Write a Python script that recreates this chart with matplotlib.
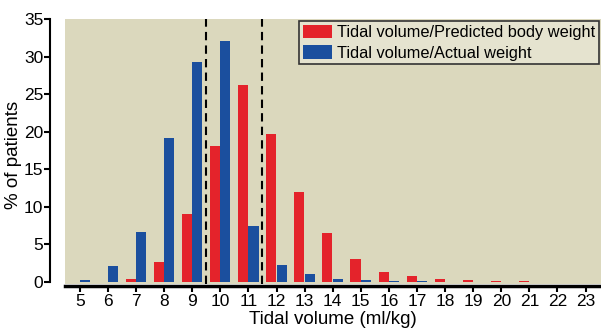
import matplotlib
matplotlib.use("Agg")
import matplotlib.pyplot as plt
import numpy as np

plt.rcParams['font.family'] = ['Liberation Sans', 'DejaVu Sans']

categories = list(range(5, 24))
pbw = [0.0, 0.05, 0.4, 2.7, 9.0, 18.1, 26.2, 19.7, 12.0, 6.5, 3.0, 1.3, 0.85, 0.4, 0.3, 0.15, 0.08, 0.05, 0.05]
actual = [0.2, 2.1, 6.7, 19.1, 29.3, 32.1, 7.4, 2.3, 1.0, 0.4, 0.25, 0.08, 0.1, 0.05, 0.05, 0.05, 0.05, 0.05, 0.05]
labels = ["Tidal volume/Predicted body weight", "Tidal volume/Actual weight"]
cutoffs = [9.5, 11.5]

red = "#e4232b"
blue = "#1b4f9e"
tan = "#dbd8bd"

W, H = 601, 332
fig = plt.figure(figsize=(W/100, H/100), dpi=100)
ax = fig.add_axes([65/W, (H-283.5)/H, 1-65/W, (283.5-19)/H])
ax.set_facecolor(tan)

x = np.array(categories)
ax.bar(x - 0.19, pbw, width=0.36, color=red, label=labels[0])
ax.bar(x + 0.18, actual, width=0.36, color=blue, label=labels[1])

for c in cutoffs:
    ax.axvline(c, color="black", lw=1.5, ls=(0, (4, 2.5)))

ax.set_xlim(4.47, 23.55)
ax.set_ylim(-0.2, 35)
ax.set_xticks(categories)
ax.set_yticks(range(0, 36, 5))
ax.tick_params(labelsize=12.5, width=1.5, length=4, color="black", pad=1.5)
ax.tick_params(axis="y", pad=0.5)

for s in ["top", "right"]:
    ax.spines[s].set_visible(False)
ax.spines["left"].set_position(("outward", 11))
ax.spines["left"].set_bounds(0, 35)
ax.spines["left"].set_linewidth(1.5)
ax.spines["bottom"].set_position(("outward", 2))
ax.spines["bottom"].set_linewidth(2.5)

ax.set_xlabel("Tidal volume (ml/kg)", fontsize=13.5, labelpad=1.5)
ax.set_ylabel("% of patients", fontsize=13.5)
ax.yaxis.set_label_coords(22/W, 1 - 154.5/H, transform=fig.transFigure)

leg = ax.legend(loc="upper right", fontsize=11.8, frameon=True, fancybox=False,
                edgecolor="#333333", facecolor="#e5e3cf", framealpha=1,
                borderaxespad=0.15, handlelength=1.8, handleheight=0.9,
                handletextpad=0.3, borderpad=0.2, labelspacing=0.3)
leg.get_frame().set_linewidth(1.2)

fig.savefig("out.png", dpi=100)
